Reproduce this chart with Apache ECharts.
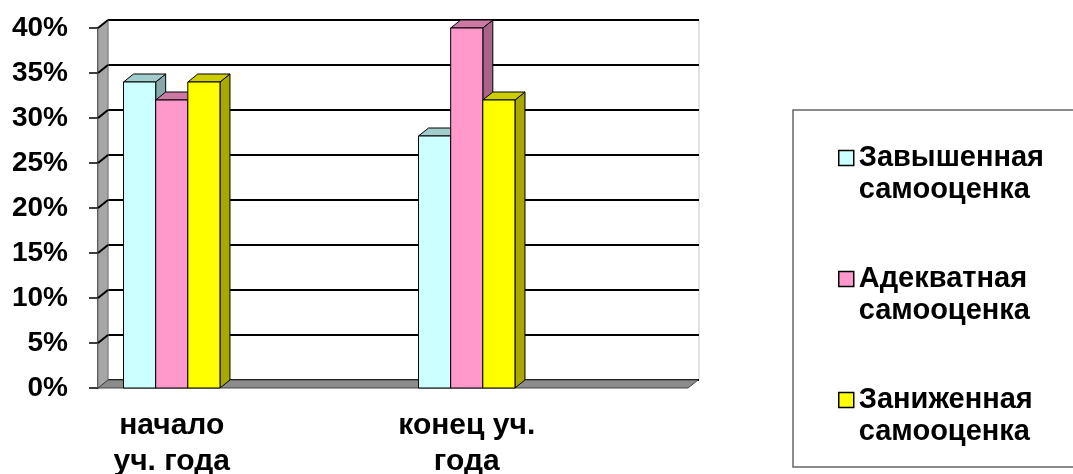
<!DOCTYPE html>
<html><head><meta charset="utf-8">
<script src="https://cdn.jsdelivr.net/npm/echarts@6/dist/echarts.min.js"></script>
<style>html,body{margin:0;padding:0;background:#fff}#c{width:1073px;height:474px}</style>
</head><body><div id="c"></div>
<script>
// ---- data ----
const categories = ['начало\nуч. года', '', 'конец уч.\nгода', ''];
const seriesNames = ['Завышенная\nсамооценка', 'Адекватная\nсамооценка', 'Заниженная\nсамооценка'];
const highValues = [34, null, 28, null];
const adequateValues = [32, null, 40, null];
const lowValues = [34, null, 32, null];
const yTicks = [0, 5, 10, 15, 20, 25, 30, 35, 40];

// ---- styling ----
const FONT = '"Liberation Sans", Arial, sans-serif';
const DX = 10, DY = 8;
const BAR_FRAC = 0.218;
const G = { left: 98, top: 28, width: 590, height: 360 };
const palette = [
  { front: '#CCFFFF', top: '#A3CCCC', side: '#87A8A8' },
  { front: '#FF99CC', top: '#CC7AA3', side: '#A86487' },
  { front: '#FFFF00', top: '#CCCC00', side: '#A8A800' }
];

function toData(vals) {
  const out = [];
  vals.forEach((v, i) => { if (v != null) out.push([i, v]); });
  return out;
}

function makeBarRender(idx) {
  const col = palette[idx];
  return function (params, api) {
    const c = api.value(0), v = api.value(1);
    const top = api.coord([c, v]);
    const base = api.coord([c, 0]);
    const band = api.size([1, 0])[0];
    const bw = band * BAR_FRAC;
    const x0 = top[0] - 1.5 * bw + idx * bw;
    const x1 = x0 + bw;
    const yT = top[1], yB = base[1];
    const st = { stroke: '#000', lineWidth: 1 };
    return {
      type: 'group', children: [
        { type: 'polygon', shape: { points: [[x1, yT], [x1 + DX, yT - DY], [x1 + DX, yB - DY], [x1, yB]] }, style: Object.assign({ fill: col.side }, st) },
        { type: 'polygon', shape: { points: [[x0, yT], [x0 + DX, yT - DY], [x1 + DX, yT - DY], [x1, yT]] }, style: Object.assign({ fill: col.top }, st) },
        { type: 'rect', shape: { x: x0, y: yT, width: bw, height: yB - yT }, style: Object.assign({ fill: col.front }, st) }
      ]
    };
  };
}

function wallsRender(params, api) {
  const cs = params.coordSys;
  const xL = cs.x, yT = cs.y, yB = cs.y + cs.height, xR = cs.x + cs.width;
  const children = [
    { type: 'polygon', shape: { points: [[xL, yT], [xL + DX, yT - DY], [xL + DX, yB - DY], [xL, yB]] }, style: { fill: '#A6A6A6', stroke: '#777', lineWidth: 1 } },
    { type: 'polygon', shape: { points: [[xL, yB], [xL + DX, yB - DY], [xR + DX, yB - DY], [xR, yB]] }, style: { fill: '#8C8C8C', stroke: '#444', lineWidth: 1 } }
  ];
  yTicks.forEach(t => {
    if (t === 0) return;
    const y = api.coord([0, t])[1];
    children.push({ type: 'line', shape: { x1: xL, y1: y, x2: xL + DX, y2: y - DY }, style: { stroke: '#000', lineWidth: 2 } });
  });
  return { type: 'group', children };
}

const chart = echarts.init(document.getElementById('c'), null, { renderer: 'canvas' });
chart.setOption({
  backgroundColor: '#fff',
  animation: false,
  grid: [
    { left: G.left, top: G.top, width: G.width, height: G.height, outerBoundsMode: 'none', containLabel: false },
    { left: G.left + DX, top: G.top - DY, width: G.width + 1, height: G.height, outerBoundsMode: 'none', containLabel: false,
      show: true, backgroundColor: '#fff', borderColor: '#c8c8c8', borderWidth: 1, z: -1 }
  ],
  xAxis: [
    { type: 'category', gridIndex: 0, data: categories,
      axisLine: { show: false }, axisTick: { show: false },
      axisLabel: { interval: 0, margin: 20, fontSize: 30, fontWeight: 'bold', lineHeight: 36, color: '#000', fontFamily: FONT } },
    { type: 'category', gridIndex: 1, data: categories, show: false }
  ],
  yAxis: [
    { type: 'value', gridIndex: 0, min: 0, max: 40, interval: 5,
      axisLine: { show: true, lineStyle: { color: '#000', width: 1.5 } },
      axisTick: { show: true, length: 9, lineStyle: { color: '#000', width: 1.5 } },
      splitLine: { show: false },
      axisLabel: { formatter: '{value}%', margin: 30, fontSize: 28, fontWeight: 'bold', color: '#000', fontFamily: FONT } },
    { type: 'value', gridIndex: 1, min: 0, max: 40, interval: 5,
      axisLine: { show: false }, axisTick: { show: false }, axisLabel: { show: false },
      splitLine: { show: true, lineStyle: { color: '#000', width: 2 } } }
  ],
  legend: {
    orient: 'vertical', left: 793, top: 110,
    data: seriesNames,
    icon: 'rect',
    itemWidth: 15, itemHeight: 15, itemGap: 25,
    padding: [0, 200, 19, 45],
    borderColor: '#666', borderWidth: 1.5,
    formatter: n => '\n' + n,
    selectedMode: false,
    itemStyle: { borderColor: '#000', borderWidth: 1.5 },
    textStyle: { fontSize: 29, fontWeight: 'bold', lineHeight: 32, color: '#000', fontFamily: FONT }
  },
  series: [
    { type: 'custom', name: '_walls', xAxisIndex: 0, yAxisIndex: 0, z: 1, clip: false, silent: true,
      renderItem: wallsRender, data: [[0, 0]], encode: { x: 0, y: 1 } },
    { type: 'custom', name: seriesNames[0], xAxisIndex: 0, yAxisIndex: 0, z: 2, clip: false,
      itemStyle: { color: palette[0].front, borderColor: '#000' },
      renderItem: makeBarRender(0), data: toData(highValues), encode: { x: 0, y: 1 } },
    { type: 'custom', name: seriesNames[1], xAxisIndex: 0, yAxisIndex: 0, z: 3, clip: false,
      itemStyle: { color: palette[1].front, borderColor: '#000' },
      renderItem: makeBarRender(1), data: toData(adequateValues), encode: { x: 0, y: 1 } },
    { type: 'custom', name: seriesNames[2], xAxisIndex: 0, yAxisIndex: 0, z: 4, clip: false,
      itemStyle: { color: palette[2].front, borderColor: '#000' },
      renderItem: makeBarRender(2), data: toData(lowValues), encode: { x: 0, y: 1 } }
  ]
});
</script></body></html>
